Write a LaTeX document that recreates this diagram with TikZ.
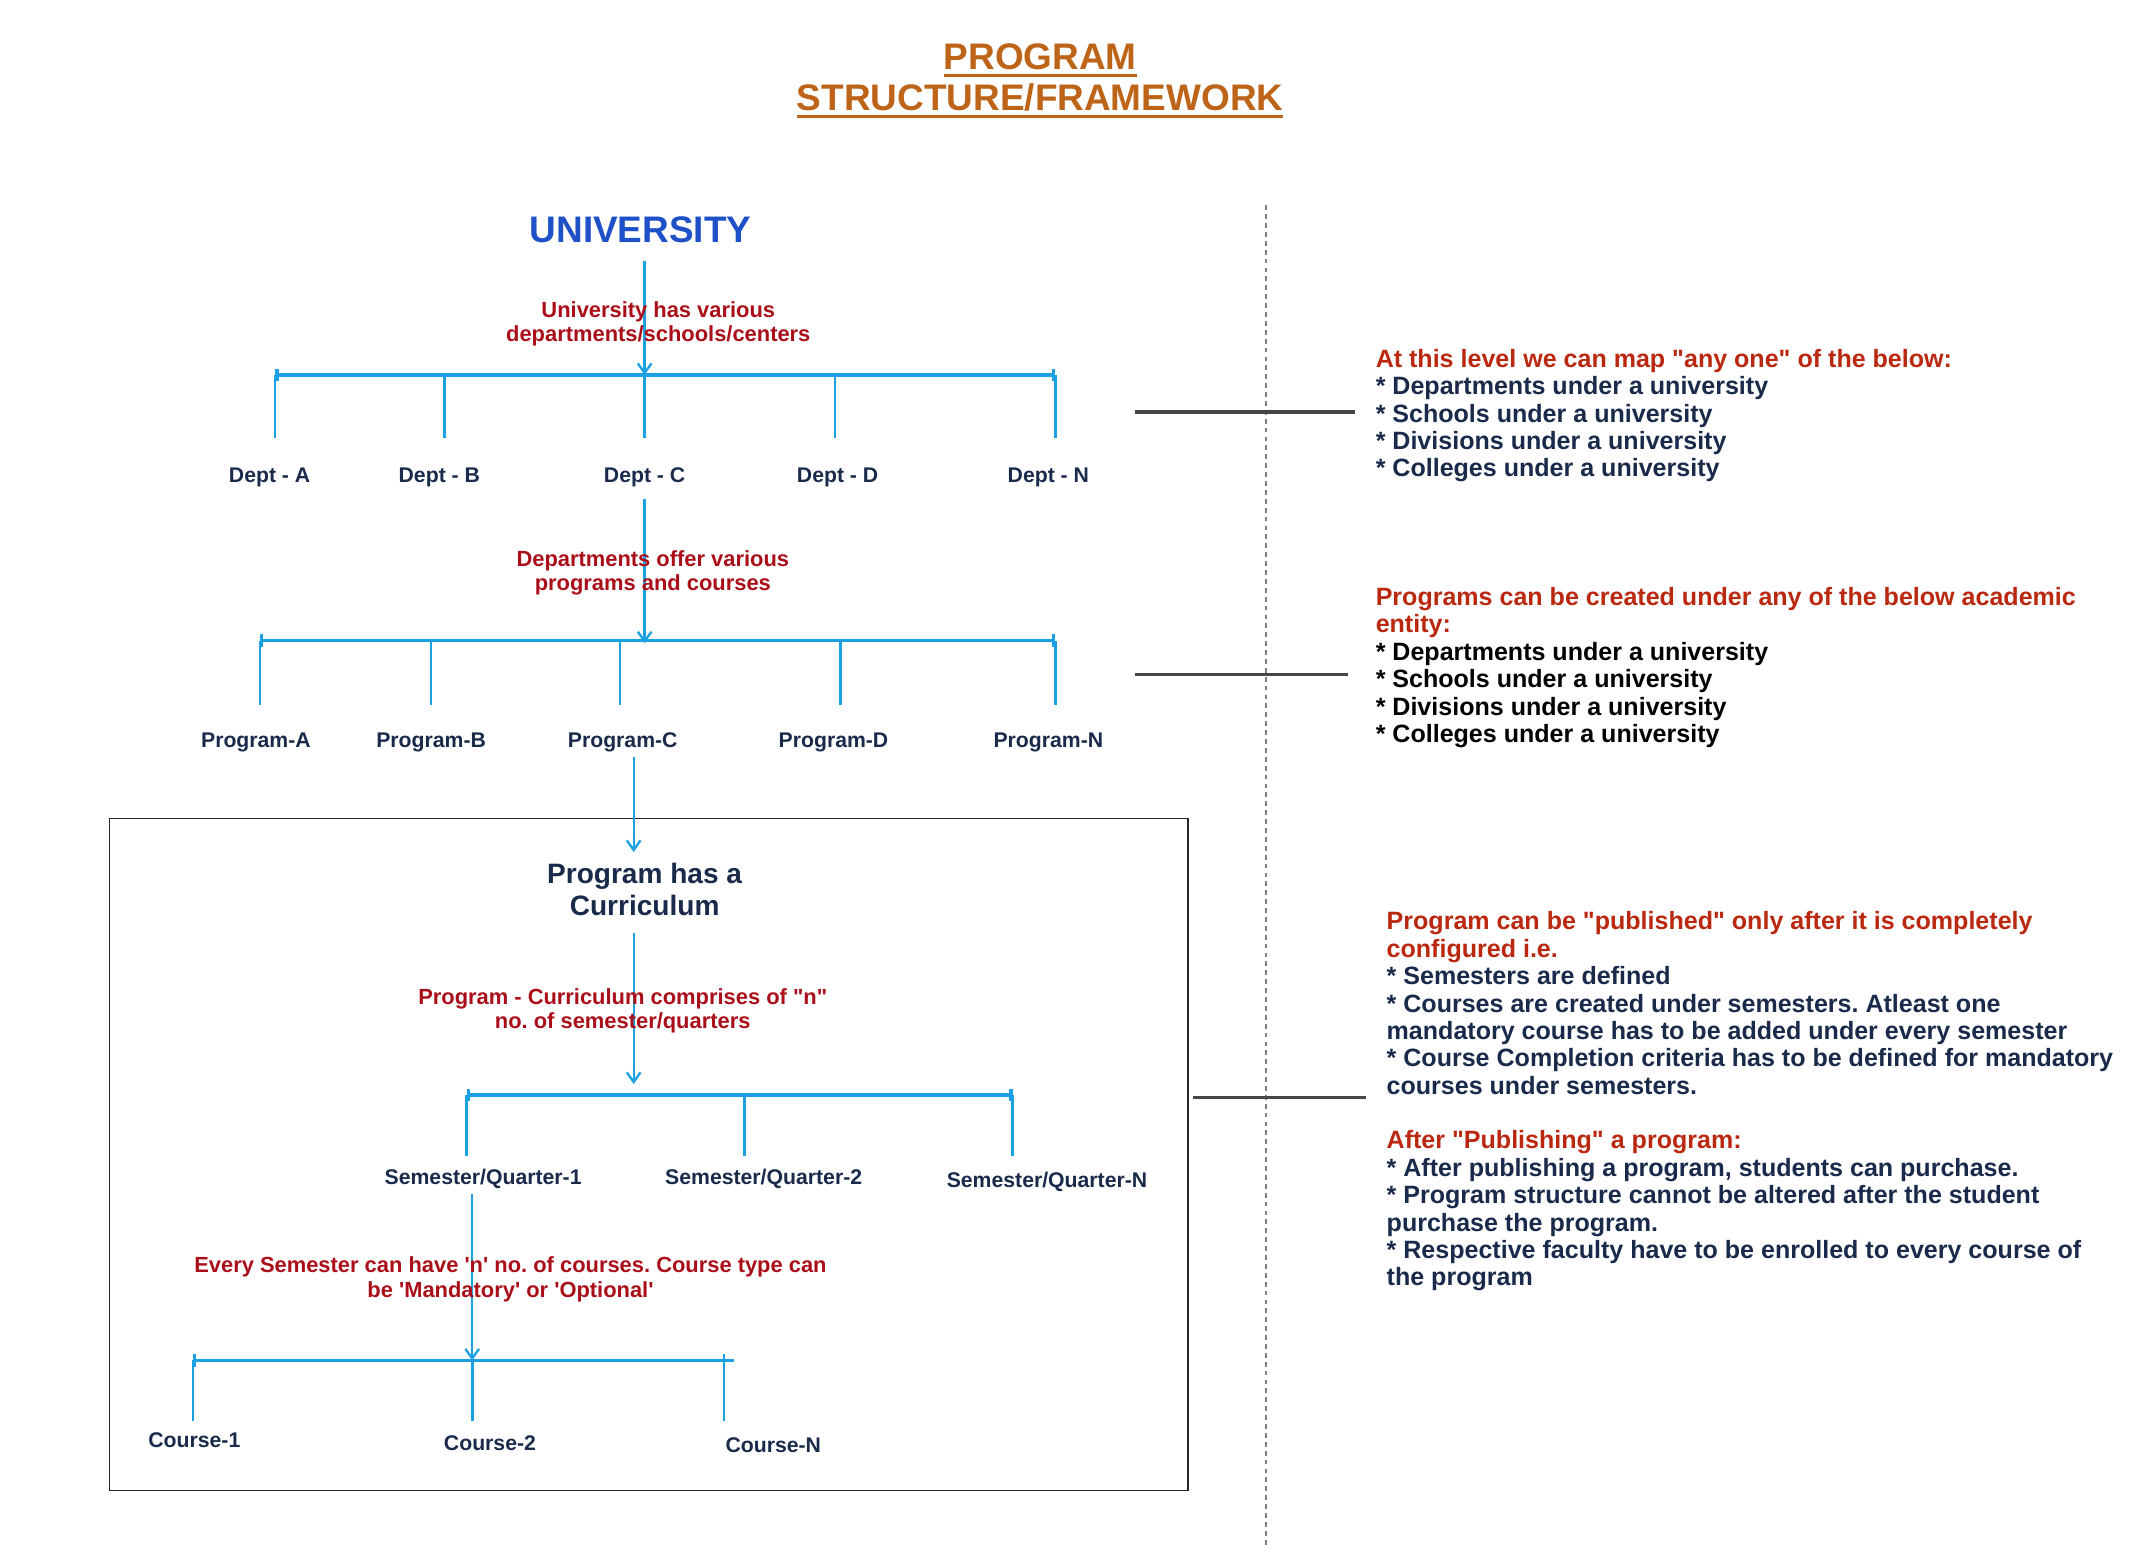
\documentclass[tikz,border=0pt]{standalone}
\usepackage{fontspec}
\setmainfont{Liberation Sans}
\usetikzlibrary{arrows.meta}
\definecolor{titleor}{RGB}{190,100,25}
\definecolor{unibl}{RGB}{30,80,200}
\definecolor{notered}{RGB}{170,15,25}
\definecolor{sidered}{RGB}{185,40,15}
\definecolor{navy}{RGB}{25,42,75}
\definecolor{flowc}{RGB}{27,161,226}
\definecolor{linkg}{RGB}{70,70,70}
\newcommand{\undl}[1]{\setbox0\hbox{#1}\rlap{\raisebox{-5pt}{\rule{\wd0}{1.8pt}}}\box0}
\newcommand{\qq}{\textquotedbl}
\newcommand{\qs}{\textquotesingle}
\frenchspacing

\begin{document}
\begin{tikzpicture}[x=1pt,y=-1pt,
    lbl/.style={font=\fontsize{15.5}{18}\selectfont\bfseries, text=navy, inner sep=0, anchor=base},
    note/.style={font=\fontsize{16}{18}\selectfont\bfseries, text=notered, align=center, inner sep=0, anchor=north},
    side/.style={font=\fontsize{18.3}{20}\selectfont\bfseries, text=navy, align=left, inner sep=0, anchor=north west},
    flow/.style={draw=flowc, line width=1.7pt, -{Straight Barb[length=7pt,width=10pt]}},
    bar/.style={draw=flowc, line width=2.5pt, {Bar[width=9pt]}-{Bar[width=9pt]}},
    tick/.style={draw=flowc, line width=2pt},
    link/.style={draw=linkg, line width=2.5pt}]
        \useasboundingbox (0,0) rectangle (1568,1142.5);
        % title
        \node[font=\fontsize{27}{30}\selectfont\bfseries, text=titleor, align=center, inner sep=0, anchor=north] (title) at (760,32) {\undl{PROGRAM}\\\undl{STRUCTURE/FRAMEWORK}};
        % university
        \node[font=\fontsize{27}{30}\selectfont\bfseries, text=unibl, inner sep=0, anchor=base] (uni) at (468,177) {UNIVERSITY};
        \coordinate (j1) at (471,274);
        \draw[flow, shorten <=13pt] (uni.south -| j1) -- (j1);
        \node[note] (n1) at (481,220) {University has various\\departments/schools/centers};
        % departments
        \draw[bar] (201,274) -- (771,274);
        \foreach \x in {201,325,471,610,771} \draw[tick] (\x,274) -- (\x,320);
        \foreach \x/\t/\n in {197/A/da,321/B/db,471/C/dc,612/D/dd,766/N/dn}
            \node[lbl] (\n) at (\x,352.5) {Dept - \t};
        \coordinate (j2) at (471,470);
        \draw[flow, shorten <=9pt] (dc.south -| j2) -- (j2);
        \node[note] (n2) at (477,402) {Departments offer various\\programs and courses};
        % programs
        \draw[bar] (190,468) -- (771,468);
        \foreach \x in {190,315,453,614,771} \draw[tick] (\x,468) -- (\x,515);
        \foreach \x/\t/\n in {187/A/pa,315/B/pb,455/C/pc,609/D/pd,766/N/pn}
            \node[lbl] (\n) at (\x,546.5) {Program-\t};
        % curriculum box
        \draw[line width=1.2pt, draw=black!85] (80,598) rectangle (868,1089);
        \node[font=\fontsize{20.5}{23}\selectfont\bfseries, text=navy, align=center, inner sep=0, anchor=north] (cur) at (471,630.5) {Program has a\\Curriculum};
        \draw[flow, shorten <=3pt, shorten >=8pt] ([xshift=8pt]pc.south) -- ([xshift=8pt]pc.south |- cur.north);
        \coordinate (j3) at (463,800);
        \draw[flow, shorten <=13pt, shorten >=8pt] (cur.south -| j3) -- (j3);
        \node[note] (n3) at (455,722) {Program - Curriculum comprises of \qq n\qq\\no. of semester/quarters};
        % semesters
        \draw[bar] (341,800) -- (740,800);
        \foreach \x in {341,544,740} \draw[tick] (\x,800) -- (\x,845);
        \node[lbl] (s1) at (353,865.5) {Semester/Quarter-1};
        \node[lbl] (s2) at (558,865.5) {Semester/Quarter-2};
        \node[lbl] (sn) at (765,867.5) {Semester/Quarter-N};
        \coordinate (j4) at (345,994);
        \draw[flow, shorten <=4pt] (s1.south -| j4) -- (j4);
        \node[note] (n4) at (373,918) {Every Semester can have \qs n\qs{} no. of courses. Course type can\\be \qs Mandatory\qs{} or \qs Optional\qs};
        % courses
        \draw[draw=flowc, line width=2.5pt, {Bar[width=9pt]}-] (141,994) -- (536,994);
        \foreach \x in {141,345} \draw[tick] (\x,994) -- (\x,1038);
        \draw[tick] (529,989) -- (529,1038);
        \node[lbl] (c1) at (142,1057.5) {Course-1};
        \node[lbl] (c2) at (358,1059.5) {Course-2};
        \node[lbl] (cn) at (565,1061.5) {Course-N};
        % divider and links
        \draw[gray, line width=1.2pt, dash pattern=on 3.5pt off 3pt] (925,150) -- (925,1130);
        \draw[link] (829,301) -- (990,301);
        \draw[link] (829,493) -- (985,493);
        \draw[link] (872,802) -- (998,802);
        % side notes
        \node[side] (r1) at (1005,255) {\textcolor{sidered}{At this level we can map \qq any one\qq{} of the below:}\\* Departments under a university\\* Schools under a university\\* Divisions under a university\\* Colleges under a university};
        \node[side, text=black] (r2) at (1005,429) {\textcolor{sidered}{Programs can be created under any of the below academic}\\\textcolor{sidered}{entity:}\\* Departments under a university\\* Schools under a university\\* Divisions under a university\\* Colleges under a university};
        \node[side] (r3) at (1013,666) {\textcolor{sidered}{Program can be \qq published\qq{} only after it is completely}\\\textcolor{sidered}{configured i.e.}\\* Semesters are defined\\* Courses are created under semesters. Atleast one\\mandatory course has to be added under every semester\\* Course Completion criteria has to be defined for mandatory\\courses under semesters.\\[20pt]\textcolor{sidered}{After \qq Publishing\qq{} a program:}\\* After publishing a program, students can purchase.\\* Program structure cannot be altered after the student\\purchase the program.\\* Respective faculty have to be enrolled to every course of\\the program};
\end{tikzpicture}
\end{document}
